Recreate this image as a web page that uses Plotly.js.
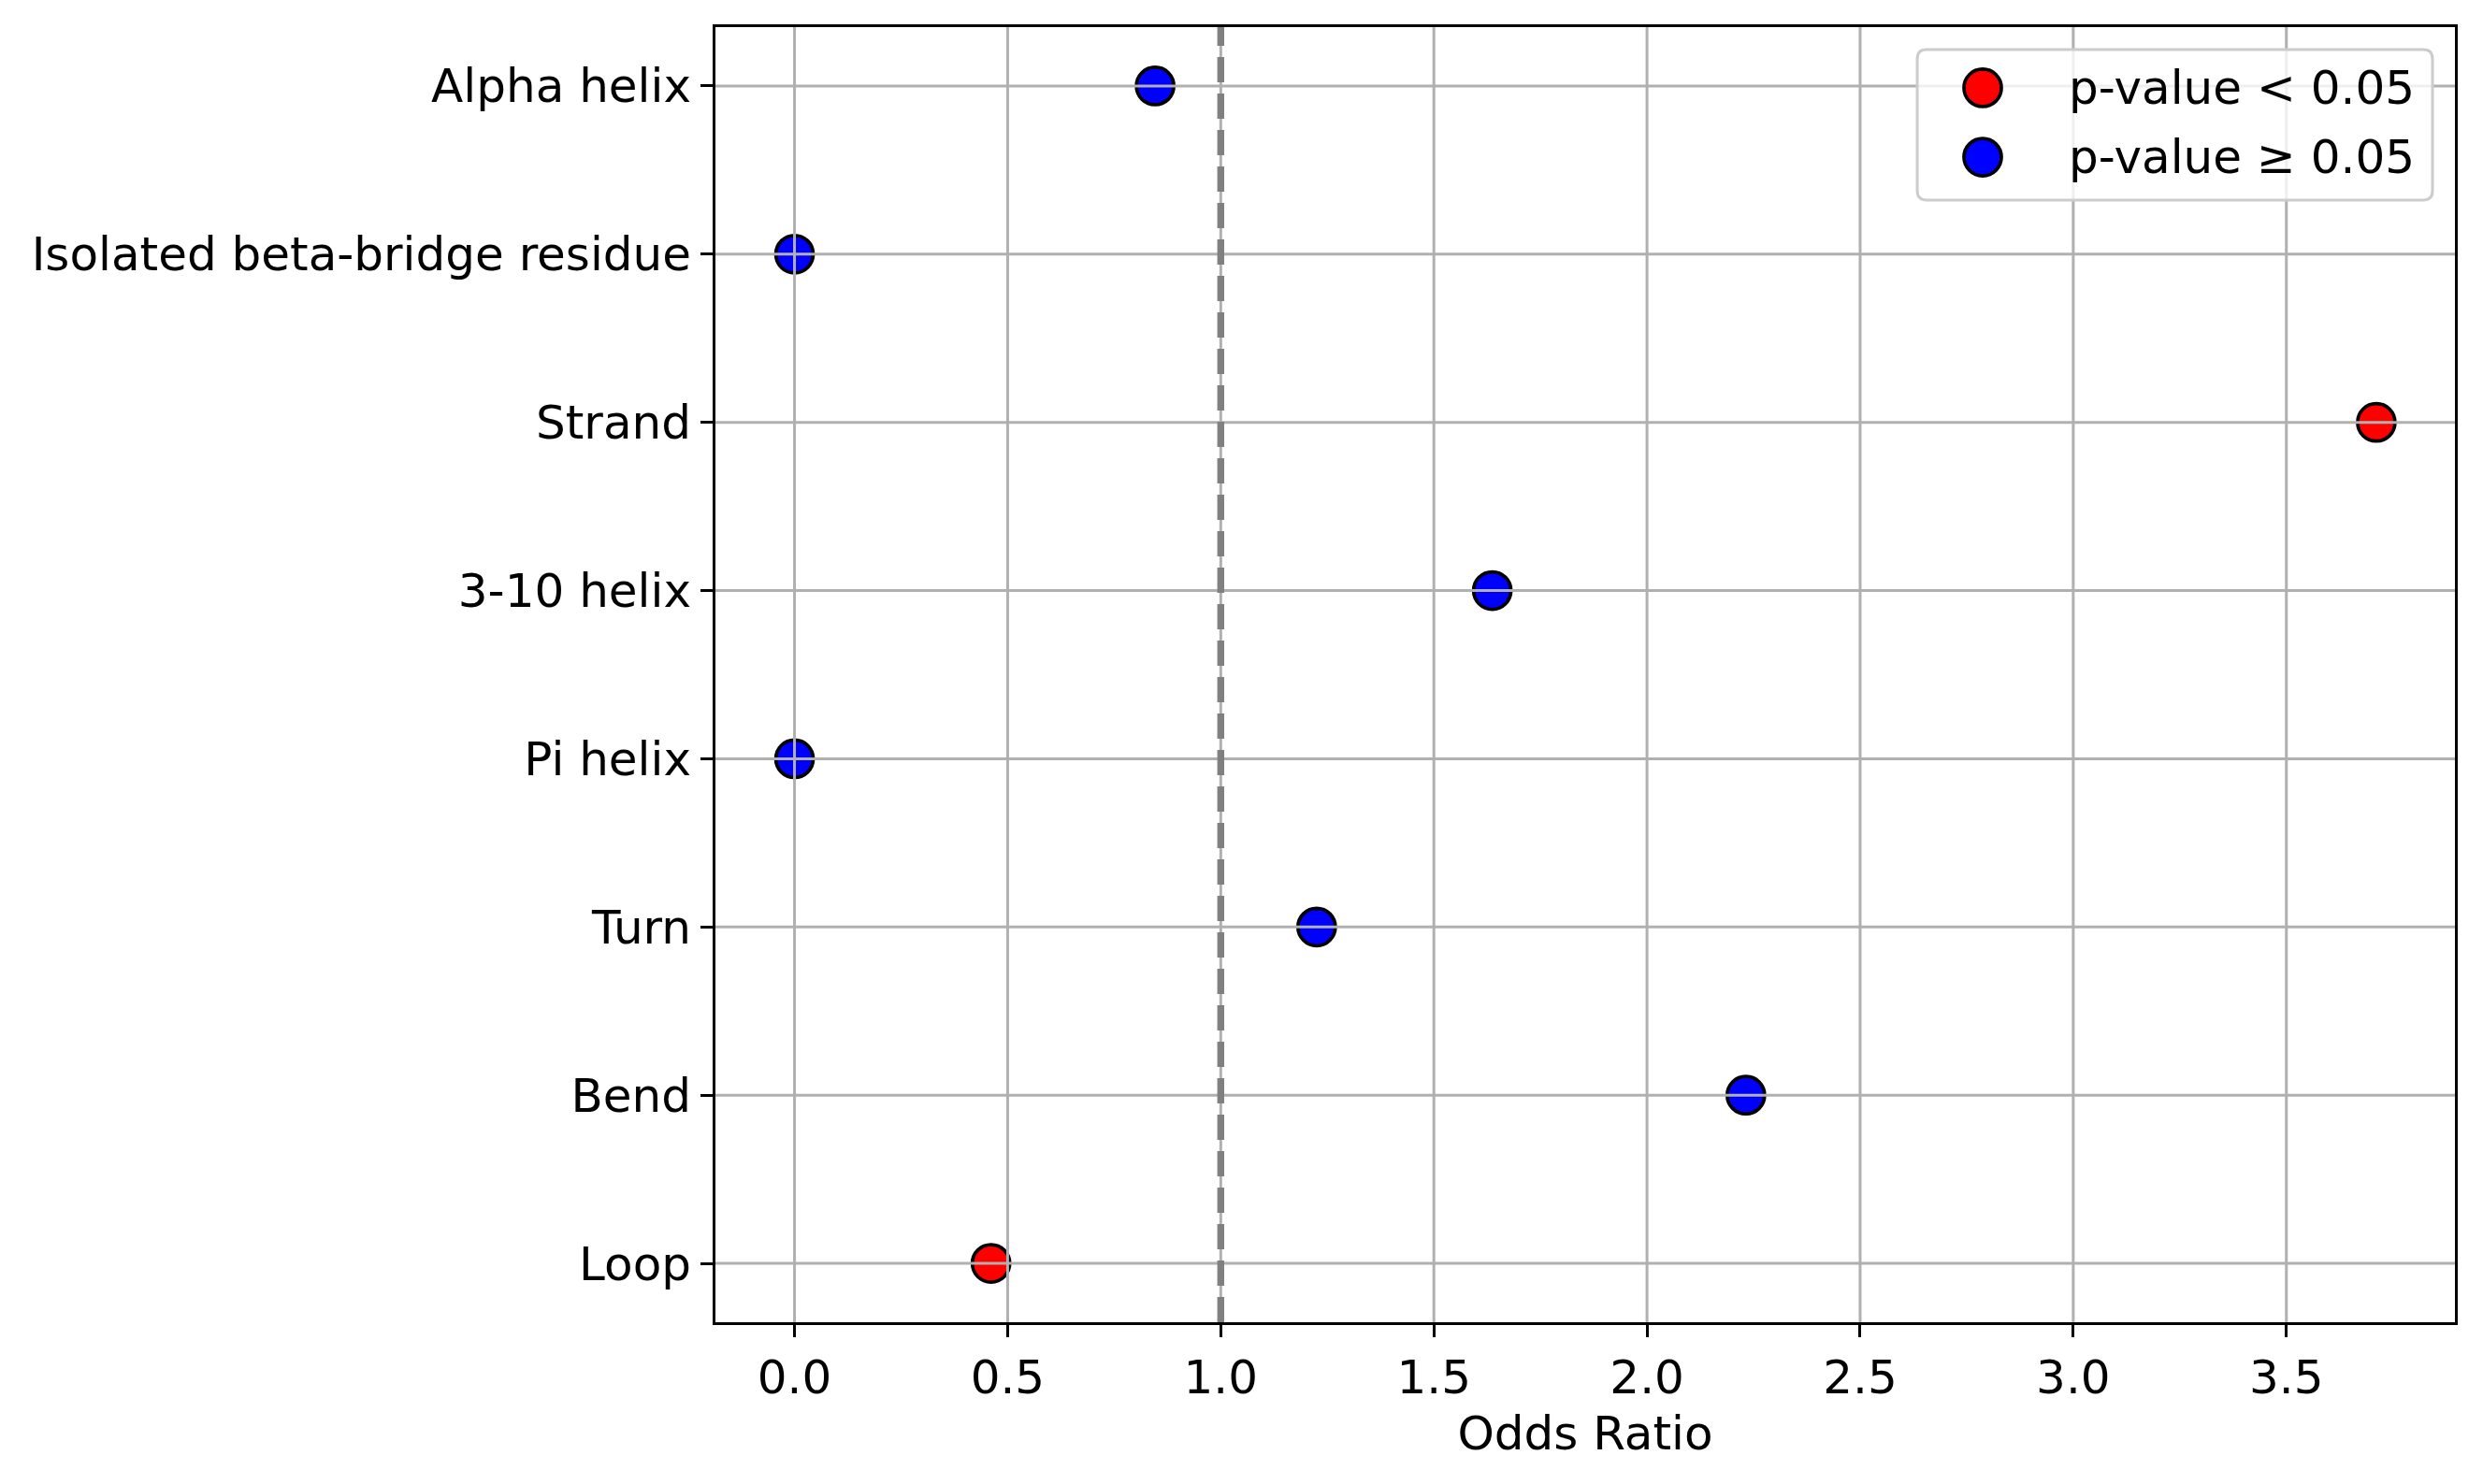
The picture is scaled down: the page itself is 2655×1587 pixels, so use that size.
<!DOCTYPE html>
<html>
<head>
<meta charset="utf-8">
<script src="https://cdn.plot.ly/plotly-3.0.1.min.js"></script>
<style>
  html, body { margin: 0; padding: 0; background: #fff; }
  #chart { width: 2655px; height: 1587px; }
</style>
</head>
<body>
<div id="chart"></div>
<script>
// data
var categories = ["Alpha helix", "Isolated beta-bridge residue", "Strand", "3-10 helix",
                  "Pi helix", "Turn", "Bend", "Loop"];
var oddsRatios = [0.846, 0.0, 3.711, 1.637, 0.0, 1.225, 2.232, 0.461];
var significant = [false, false, true, false, false, false, false, true];
var xTicks = [0.0, 0.5, 1.0, 1.5, 2.0, 2.5, 3.0, 3.5];
var legendLabels = ["p-value < 0.05", "p-value \u2265 0.05"];
var refLine = 1.0;

var font = "DejaVu Sans, Verdana, sans-serif";
var fontSize = 50;

function pick(flag) {
    var x = [], y = [];
    for (var i = 0; i < categories.length; i++) {
        if (significant[i] === flag) {
            x.push(oddsRatios[i]);
            y.push(categories[i]);
        }
    }
    return [x, y];
}

function dotTrace(flag, color, name) {
    var xy = pick(flag);
    return {
        x: xy[0],
        y: xy[1],
        type: 'scatter',
        mode: 'markers',
        name: name,
        showlegend: false,
        marker: {
            color: color,
            size: 40,
            line: { color: 'black', width: 3.7 }
        },
        cliponaxis: false
    };
}

var sig = dotTrace(true, '#ff0000', legendLabels[0]);
var nonSig = dotTrace(false, '#0000ff', legendLabels[1]);

// grid lines as shapes, so they sit above the markers like the original
var shapes = [];
xTicks.forEach(function (t) {
    shapes.push({
        type: 'line', layer: 'above', xref: 'x', yref: 'paper',
        x0: t, x1: t, y0: 0, y1: 1,
        line: { color: '#b0b0b0', width: 3 }
    });
});
categories.forEach(function (c, i) {
    shapes.push({
        type: 'line', layer: 'above', xref: 'paper', yref: 'y',
        x0: 0, x1: 1, y0: i, y1: i,
        line: { color: '#b0b0b0', width: 3 }
    });
});
shapes.push({
    type: 'line', layer: 'above', xref: 'x', yref: 'paper',
    x0: refLine, x1: refLine, y0: 0, y1: 1,
    line: { color: '#808080', width: 7.4, dash: '27px,12px' }
});

// legend box drawn by hand (plotly caps legend marker size)
var lx0 = 0.6909, lx1 = 0.9871, ly0 = 0.8664, ly1 = 0.9827;
var rx = 0.0054, ry = 0.0072;
var box = 'M ' + (lx0 + rx) + ',' + ly1 + ' L ' + (lx1 - rx) + ',' + ly1 +
    ' Q ' + lx1 + ',' + ly1 + ' ' + lx1 + ',' + (ly1 - ry) +
    ' L ' + lx1 + ',' + (ly0 + ry) +
    ' Q ' + lx1 + ',' + ly0 + ' ' + (lx1 - rx) + ',' + ly0 +
    ' L ' + (lx0 + rx) + ',' + ly0 +
    ' Q ' + lx0 + ',' + ly0 + ' ' + lx0 + ',' + (ly0 + ry) +
    ' L ' + lx0 + ',' + (ly1 - ry) +
    ' Q ' + lx0 + ',' + ly1 + ' ' + (lx0 + rx) + ',' + ly1 + ' Z';
shapes.push({
    type: 'path', layer: 'above', xref: 'paper', yref: 'paper', path: box,
    fillcolor: 'rgba(255,255,255,0.8)', line: { color: '#cccccc', width: 3 }
});

var rowY = [0.9531, 0.8996];
var rowColor = ['#ff0000', '#0000ff'];
var annotations = [];
for (var k = 0; k < 2; k++) {
    shapes.push({
        type: 'circle', layer: 'above', xref: 'paper', yref: 'paper',
        xsizemode: 'pixel', ysizemode: 'pixel',
        xanchor: 0.7285, yanchor: rowY[k],
        x0: -20, x1: 20, y0: -20, y1: 20,
        fillcolor: rowColor[k], line: { color: 'black', width: 3.7 }
    });
    annotations.push({
        xref: 'paper', yref: 'paper', x: 0.7770, y: rowY[k],
        xanchor: 'left', yanchor: 'middle', showarrow: false,
        text: legendLabels[k],
        font: { family: font, size: fontSize, color: 'black' }
    });
}

var layout = {
    width: 2655,
    height: 1587,
    margin: { l: 765, r: 30, t: 29, b: 173 },
    paper_bgcolor: 'white',
    plot_bgcolor: 'white',
    font: { family: font, size: fontSize, color: 'black' },
    showlegend: false,
    xaxis: {
        range: [-0.1855, 3.8955],
        tickvals: xTicks,
        tickformat: '.1f',
        showgrid: false,
        zeroline: false,
        showline: true,
        mirror: true,
        linecolor: 'black',
        linewidth: 3,
        ticks: 'outside',
        ticklen: 13,
        tickwidth: 3,
        tickcolor: 'black',
        tickfont: { family: font, size: fontSize, color: 'black' },
        title: { text: 'Odds Ratio', standoff: 14, font: { family: font, size: fontSize, color: 'black' } }
    },
    yaxis: {
        type: 'category',
        categoryorder: 'array',
        categoryarray: categories,
        range: [categories.length - 1 + 0.35, -0.35],
        showgrid: false,
        zeroline: false,
        showline: true,
        mirror: true,
        linecolor: 'black',
        linewidth: 3,
        ticks: 'outside',
        ticklen: 13,
        tickwidth: 3,
        tickcolor: 'black',
        tickfont: { family: font, size: fontSize, color: 'black' }
    },
    shapes: shapes,
    annotations: annotations
};

Plotly.newPlot('chart', [nonSig, sig], layout, { displayModeBar: false, staticPlot: true });
</script>
</body>
</html>
